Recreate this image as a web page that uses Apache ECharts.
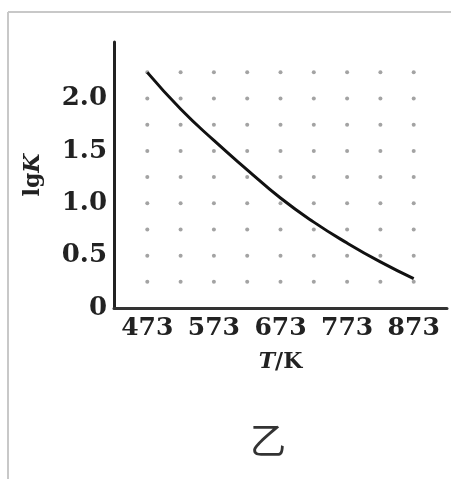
<!DOCTYPE html>
<html>
<head>
<meta charset="utf-8">
<script src="https://cdn.jsdelivr.net/npm/echarts@6/dist/echarts.min.js"></script>
<style>
html,body{margin:0;padding:0;background:#fff;}
#c{width:451px;height:479px;}
</style>
</head>
<body>
<div id="c"></div>
<script>
// Data
var temperatures = [473, 523, 573, 623, 673, 723, 773, 823, 873];
var lgK = [2.25, 1.90, 1.60, 1.32, 1.05, 0.82, 0.62, 0.44, 0.28];
var xTickValues = [473, 573, 673, 773, 873];
var xTickLabels = ['473', '573', '673', '773', '873'];
var yTickValues = [0, 0.5, 1.0, 1.5, 2.0];
var yTickLabels = ['0', '0.5', '1.0', '1.5', '2.0'];
// dotted background grid positions
var dotX = [473, 523, 573, 623, 673, 723, 773, 823, 873];
var dotY = [0.25, 0.5, 0.75, 1.0, 1.25, 1.5, 1.75, 2.0, 2.25];
var caption = '乙';

var dots = [];
dotX.forEach(function (x) { dotY.forEach(function (y) { dots.push([x, y]); }); });
var curve = temperatures.map(function (t, i) { return [t, lgK[i]]; });

var serif = '"DejaVu Serif", "Liberation Serif", serif';
var chart = echarts.init(document.getElementById('c'), null, {renderer: 'canvas'});
chart.setOption({
  animation: false,
  backgroundColor: '#fff',
  grid: {left: 114, right: 4, top: 42, bottom: 171, containLabel: false},
  xAxis: {
    type: 'value', min: 423, max: 923,
    name: '{i|T}{n|/K}', nameLocation: 'middle', nameGap: 43,
    nameTextStyle: {
      fontFamily: serif, fontWeight: 'bold', fontSize: 22, color: '#222',
      rich: {
        i: {fontFamily: serif, fontWeight: 'bold', fontStyle: 'italic', fontSize: 22, color: '#222'},
        n: {fontFamily: serif, fontWeight: 'bold', fontSize: 22, color: '#222'}
      }
    },
    axisLine: {show: true, lineStyle: {color: '#333', width: 3}},
    axisTick: {show: false},
    splitLine: {show: false},
    axisLabel: {
      customValues: xTickValues,
      formatter: function (v) { var i = xTickValues.indexOf(v); return i >= 0 ? xTickLabels[i] : ''; },
      fontFamily: serif, fontWeight: 'bold', fontSize: 25, color: '#222', margin: 8
    }
  },
  yAxis: {
    type: 'value', min: 0, max: 2.54,
    name: '{n|lg}{i|K}', nameLocation: 'middle', nameGap: 70, nameRotate: 90,
    nameTextStyle: {
      fontFamily: serif, fontWeight: 'bold', fontSize: 22, color: '#222',
      rich: {
        i: {fontFamily: serif, fontWeight: 'bold', fontStyle: 'italic', fontSize: 22, color: '#222'},
        n: {fontFamily: serif, fontWeight: 'bold', fontSize: 22, color: '#222'}
      }
    },
    axisLine: {show: true, lineStyle: {color: '#222', width: 3}},
    axisTick: {show: false},
    splitLine: {show: false},
    axisLabel: {
      customValues: yTickValues,
      formatter: function (v) {
        for (var i = 0; i < yTickValues.length; i++) { if (Math.abs(yTickValues[i] - v) < 1e-9) return yTickLabels[i]; }
        return '';
      },
      fontFamily: serif, fontWeight: 'bold', fontSize: 26, color: '#222', margin: 7
    }
  },
  series: [
    {
      type: 'scatter', data: dots, symbol: 'circle', symbolSize: 4,
      itemStyle: {color: '#8c8c8c'}, silent: true, z: 1
    },
    {
      type: 'line', data: curve, smooth: true, showSymbol: false,
      lineStyle: {color: '#111', width: 3}, z: 3
    }
  ],
  graphic: [
    {type: 'line', shape: {x1: 8, y1: 12, x2: 451, y2: 12}, style: {stroke: '#c8c8c8', lineWidth: 2}},
    {type: 'line', shape: {x1: 8, y1: 12, x2: 8, y2: 479}, style: {stroke: '#c8c8c8', lineWidth: 2}},
    {type: 'text', x: 268, y: 440, style: {
      text: caption, font: '36px "Noto Sans CJK SC", sans-serif', fill: '#333',
      align: 'center', verticalAlign: 'middle'
    }}
  ]
});
</script>
</body>
</html>
